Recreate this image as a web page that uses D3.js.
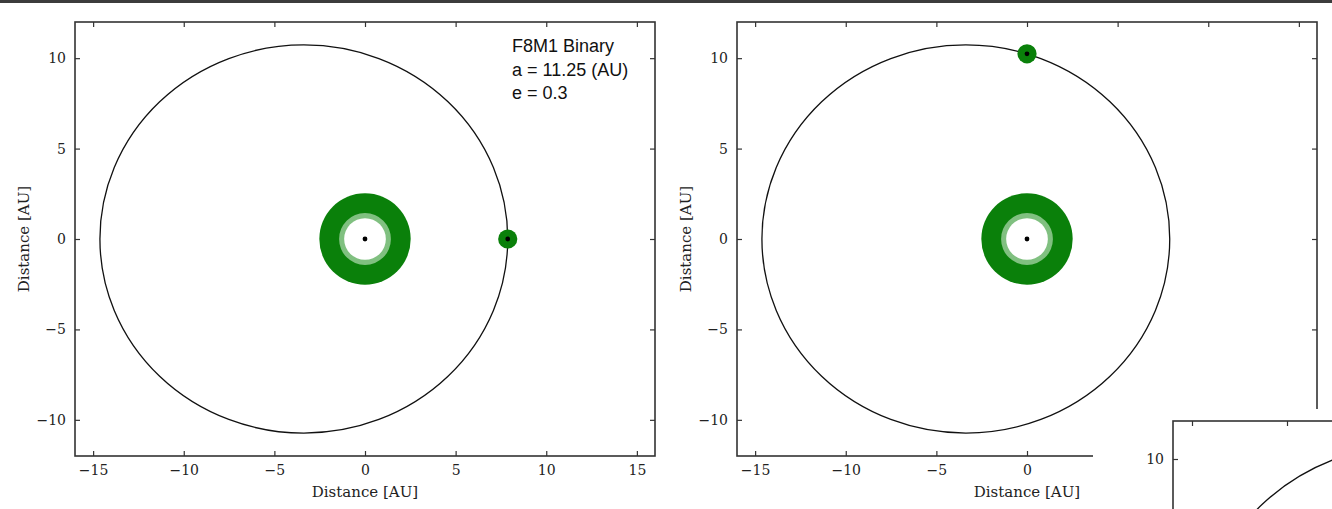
<!DOCTYPE html>
<html>
<head>
<meta charset="utf-8">
<script src="https://cdn.jsdelivr.net/npm/d3@7"></script>
<style>
  html, body { margin: 0; padding: 0; background: #fff; }
  svg { display: block; }
</style>
</head>
<body>
<svg id="chart" width="1332" height="509"></svg>
<script>
// ---- data ----
const xTicks = [-15, -10, -5, 0, 5, 10, 15];
const yTicks = [-10, -5, 0, 5, 10];
const xDomain = [-16, 16];
const yDomain = [-12, 12];
const semiMajor = 11.25;        // AU
const eccentricity = 0.3;
const hzRadii = [2.52, 1.43, 1.15];   // outer dark, light ring, inner white (AU)
const secondaryRadius = 0.53;          // AU
const secondaryPositions = [[7.875, 0], [0, 10.24]]; // left panel, right panel
const annotation = ["F8M1 Binary", "a = 11.25 (AU)", "e = 0.3"];
const axisLabel = "Distance [AU]";

const W = 1332, H = 509;
const svg = d3.select("#chart");
const FRAME = "#333";
const DARK = "#0a800a";
const LIGHT = "#80c080";

// top dark strip
svg.append("rect").attr("x", 0).attr("y", 0).attr("width", W).attr("height", 3).attr("fill", "#3c3c3c");

function panel(opts) {
  const x = d3.scaleLinear().domain(xDomain).range(opts.xr);
  const y = d3.scaleLinear().domain(yDomain).range(opts.yr);
  const g = svg.append("g");
  const id = "clip" + opts.id;
  svg.append("clipPath").attr("id", id).append("rect")
    .attr("x", opts.xr[0]).attr("y", opts.yr[1])
    .attr("width", opts.xr[1] - opts.xr[0]).attr("height", opts.yr[0] - opts.yr[1]);
  const plot = g.append("g").attr("clip-path", `url(#${id})`);

  // orbit ellipse (focus at origin)
  const cxData = -semiMajor * eccentricity;
  const bData = semiMajor * Math.sqrt(1 - eccentricity * eccentricity);
  plot.append("ellipse")
    .attr("cx", x(cxData)).attr("cy", y(0))
    .attr("rx", x(semiMajor) - x(0)).attr("ry", y(0) - y(bData))
    .attr("fill", "none").attr("stroke", "#111").attr("stroke-width", 1.3);

  // primary habitable zone
  const fills = [DARK, LIGHT, "#fff"];
  hzRadii.forEach((r, i) => {
    plot.append("circle").attr("cx", x(0)).attr("cy", y(0))
      .attr("r", x(r) - x(0)).attr("fill", fills[i]);
  });
  plot.append("circle").attr("cx", x(0)).attr("cy", y(0)).attr("r", 2.4).attr("fill", "#000");

  // secondary
  if (opts.sec) {
    const [sx, sy] = opts.sec;
    plot.append("circle").attr("cx", x(sx)).attr("cy", y(sy))
      .attr("r", x(secondaryRadius) - x(0)).attr("fill", DARK);
    plot.append("circle").attr("cx", x(sx)).attr("cy", y(sy)).attr("r", 2.4).attr("fill", "#000");
  }

  // visible ticks only
  const xt = xTicks.filter(v => x(v) < W);
  const yt = yTicks.filter(v => y(v) < H);

  // axes with inward ticks
  const tl = 5;
  const bottom = g.append("g").attr("transform", `translate(0,${opts.yr[0]})`)
    .call(d3.axisBottom(x).tickValues(xt).tickSizeInner(-tl).tickSizeOuter(0).tickPadding(9));
  const top = g.append("g").attr("transform", `translate(0,${opts.yr[1]})`)
    .call(d3.axisTop(x).tickValues(xt).tickSizeInner(-tl).tickSizeOuter(0).tickFormat(""));
  const left = g.append("g").attr("transform", `translate(${opts.xr[0]},0)`)
    .call(d3.axisLeft(y).tickValues(yt).tickSizeInner(-tl).tickSizeOuter(0).tickPadding(9));
  const right = g.append("g").attr("transform", `translate(${opts.xr[1]},0)`)
    .call(d3.axisRight(y).tickValues(yt).tickSizeInner(-tl).tickSizeOuter(0).tickFormat(""));
  [bottom, top, left, right].forEach(a => {
    a.select(".domain").remove();
    a.selectAll(".tick line").attr("stroke", FRAME).attr("stroke-width", 1.2);
    a.selectAll(".tick text").attr("font-family", "DejaVu Serif").attr("font-size", 14).attr("fill", "#222");
  });
  if (!opts.showBottomLabels) bottom.remove();

  // frame
  g.append("rect").attr("x", opts.xr[0]).attr("y", opts.yr[1])
    .attr("width", opts.xr[1] - opts.xr[0]).attr("height", opts.yr[0] - opts.yr[1])
    .attr("fill", "none").attr("stroke", FRAME).attr("stroke-width", 1.6);

  if (opts.labels) {
    g.append("text").attr("x", (opts.xr[0] + opts.xr[1]) / 2).attr("y", opts.yr[0] + 41)
      .attr("text-anchor", "middle").attr("font-family", "DejaVu Serif").attr("font-size", 15)
      .attr("fill", "#222").text(axisLabel);
    g.append("text")
      .attr("transform", `translate(${opts.xr[0] - 46},${(opts.yr[0] + opts.yr[1]) / 2}) rotate(-90)`)
      .attr("text-anchor", "middle").attr("font-family", "DejaVu Serif").attr("font-size", 15)
      .attr("fill", "#222").text(axisLabel);
  }
  return { x, y, g };
}

// left panel
const p1 = panel({ id: 1, xr: [75, 655], yr: [456, 22], sec: secondaryPositions[0], labels: true, showBottomLabels: true });
p1.g.append("g").selectAll("text").data(annotation).join("text")
  .attr("x", 512).attr("y", (d, i) => 52 + i * 23.5)
  .attr("font-family", "Liberation Sans, Arial, sans-serif").attr("font-size", 18).attr("fill", "#111")
  .text(d => d);

// right panel
panel({ id: 2, xr: [737, 1317], yr: [456, 22], sec: secondaryPositions[1], labels: true, showBottomLabels: true });

// white cover over the lower right corner
svg.append("rect").attr("x", 1093).attr("y", 409).attr("width", 260).attr("height", 120).attr("fill", "#fff");

// third, overlapping panel (only its top-left corner visible)
panel({ id: 3, xr: [1173, 1781], yr: [877, 421], sec: null, labels: false, showBottomLabels: false });
</script>
</body>
</html>
